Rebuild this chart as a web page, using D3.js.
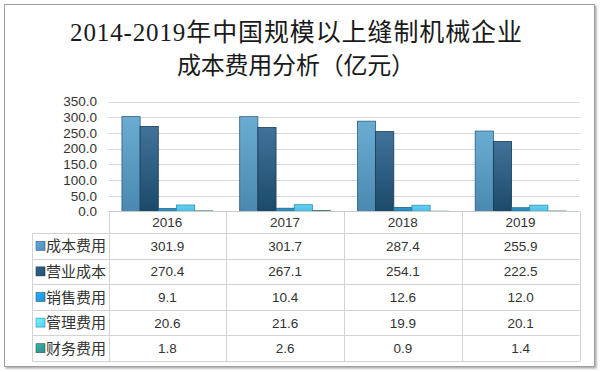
<!DOCTYPE html>
<html><head><meta charset="utf-8">
<script src="https://cdn.jsdelivr.net/npm/d3@7"></script>
<style>body{margin:0;background:#fff}svg{display:block}</style>
</head><body><svg id="c" width="600" height="372"></svg>
<script>
const years = ["2016","2017","2018","2019"];
const seriesNames = ["成本费用","营业成本","销售费用","管理费用","财务费用"];
const costExpense = [301.9,301.7,287.4,255.9];
const operatingCost = [270.4,267.1,254.1,222.5];
const salesExpense = [9.1,10.4,12.6,12.0];
const adminExpense = [20.6,21.6,19.9,20.1];
const financeExpense = [1.8,2.6,0.9,1.4];
const yTicks = [0,50,100,150,200,250,300,350];
const titleLines = ["2014-2019年中国规模以上缝制机械企业","成本费用分析（亿元）"];

const seriesValues = [costExpense, operatingCost, salesExpense, adminExpense, financeExpense];
const colors = [
  {top:"#6badd2", bot:"#4a88b0", stroke:"#2d5c7c", key:"#4d8cb6"},
  {top:"#41729a", bot:"#1b4a69", stroke:"#163a55", key:"#25516f"},
  {top:"#2f9ad2", bot:"#1f80b4", stroke:"#1a5f86", key:"#1f8fd0"},
  {top:"#66d3f3", bot:"#48bde6", stroke:"#2a8fb4", key:"#58c9ef"},
  {top:"#3f9e9a", bot:"#2a7e7c", stroke:"#1f5f5d", key:"#2f8f88"}
];

const svg = d3.select("#c");
const defs = svg.append("defs");
colors.forEach((c,i)=>{
  const g = defs.append("linearGradient").attr("id","g"+i).attr("x1",0).attr("y1",0).attr("x2",0).attr("y2",1);
  g.append("stop").attr("offset","0%").attr("stop-color",c.top);
  g.append("stop").attr("offset","100%").attr("stop-color",c.bot);
  const h = defs.append("linearGradient").attr("id","k"+i).attr("x1",0).attr("y1",0).attr("x2",1).attr("y2",1);
  h.append("stop").attr("offset","0%").attr("stop-color",d3.color(c.key).brighter(0.6));
  h.append("stop").attr("offset","100%").attr("stop-color",c.key);
});
const sh = defs.append("filter").attr("id","sh").attr("x","-5%").attr("y","-5%").attr("width","110%").attr("height","110%");
sh.append("feDropShadow").attr("dx",1.5).attr("dy",1.5).attr("stdDeviation",1.2).attr("flood-color","#000").attr("flood-opacity",0.35);

// frame
svg.append("rect").attr("x",4.5).attr("y",4.5).attr("width",590).attr("height",362)
  .attr("fill","#fff").attr("stroke","#a0a0a0").attr("stroke-width",1).attr("filter","url(#sh)");

// title
svg.append("text").attr("x",296).attr("y",41).attr("text-anchor","middle")
  .attr("textLength",452).attr("lengthAdjust","spacing")
  .style("font-family","'Liberation Serif','Noto Sans CJK SC',serif").style("font-size","25px").style("fill","#1a1a1a")
  .text(titleLines[0]);
svg.append("text").attr("x",296).attr("y",74).attr("text-anchor","middle")
  .attr("textLength",238).attr("lengthAdjust","spacing")
  .style("font-family","'Liberation Serif','Noto Sans CJK SC',serif").style("font-size","24px").style("fill","#1a1a1a")
  .text(titleLines[1]);

const left = 108.5, right = 579.5, y0 = 211.5, yTop = 101.5;
const x = d3.scaleBand().domain(years).range([left,right]).paddingInner(0).paddingOuter(0);
const xs = d3.scaleBand().domain(d3.range(5)).range([0,x.bandwidth()]).paddingOuter(0.74).paddingInner(0);
const y = d3.scaleLinear().domain([0,350]).range([y0,yTop]);

// gridlines
svg.append("g").selectAll("line").data(yTicks.filter(t=>t>0)).join("line")
  .attr("x1",left).attr("x2",right).attr("y1",d=>Math.round(y(d))+0.5).attr("y2",d=>Math.round(y(d))+0.5)
  .attr("stroke","#d9d9d9").attr("stroke-width",1);

// y axis labels
const yAxis = d3.axisLeft(y).tickValues(yTicks).tickFormat(d3.format(".1f")).tickSize(0).tickPadding(0);
const ga = svg.append("g").attr("transform","translate(97,0)").call(yAxis);
ga.select(".domain").remove();
ga.selectAll("text").style("font-family","'Liberation Sans','Noto Sans',sans-serif").style("font-size","13.5px").style("fill","#333");

// bars
seriesValues.forEach((vals,si)=>{
  svg.append("g").selectAll("rect").data(vals).join("rect")
    .attr("x",(d,i)=>x(years[i])+xs(si))
    .attr("y",d=>y(d))
    .attr("width",xs.bandwidth())
    .attr("height",d=>y0-y(d))
    .attr("fill","url(#g"+si+")")
    .attr("stroke",colors[si].stroke).attr("stroke-width",0.8);
});

// table
const rows = d3.scaleBand().domain(seriesNames).range([233,361]);
const tableLeft = 32.5;
const tl = svg.append("g").attr("stroke","#d3d3d3").attr("stroke-width",1);
tl.append("line").attr("x1",left).attr("x2",right).attr("y1",y0).attr("y2",y0).attr("stroke","#c8c8c8");
[233].concat(seriesNames.map(n=>rows(n)+rows.bandwidth())).forEach(v=>{
  const yy = Math.round(v)+0.5;
  tl.append("line").attr("x1",tableLeft).attr("x2",right).attr("y1",yy).attr("y2",yy);
});
tl.append("line").attr("x1",tableLeft).attr("x2",tableLeft).attr("y1",233.5).attr("y2",361.5);
years.concat(["end"]).forEach((yr,i)=>{
  const xx = Math.round(i<4 ? x(yr) : right)+0.5;
  tl.append("line").attr("x1",xx).attr("x2",xx).attr("y1",y0).attr("y2",361.5);
});

// header years
svg.append("g").selectAll("text").data(years).join("text")
  .attr("x",d=>x(d)+x.bandwidth()/2).attr("y",227).attr("text-anchor","middle")
  .style("font-family","'Liberation Sans','Noto Sans',sans-serif").style("font-size","13.5px").style("fill","#333")
  .text(d=>d);

// row labels + keys
seriesNames.forEach((n,si)=>{
  const cy = rows(n)+rows.bandwidth()/2;
  svg.append("rect").attr("x",36).attr("y",cy-4.5).attr("width",9).attr("height",9)
    .attr("fill","url(#k"+si+")").attr("stroke",colors[si].stroke).attr("stroke-width",0.6);
  svg.append("text").attr("x",46).attr("y",cy+5.5).attr("textLength",60).attr("lengthAdjust","spacing")
    .style("font-family","'Noto Sans CJK SC',sans-serif").style("font-size","15px").style("fill","#333")
    .text(n);
  svg.append("g").selectAll("text").data(seriesValues[si]).join("text")
    .attr("x",(d,i)=>x(years[i])+x.bandwidth()/2).attr("y",cy+5).attr("text-anchor","middle")
    .style("font-family","'Liberation Sans','Noto Sans',sans-serif").style("font-size","13.5px").style("fill","#333")
    .text(d=>d3.format(".1f")(d));
});
</script></body></html>
